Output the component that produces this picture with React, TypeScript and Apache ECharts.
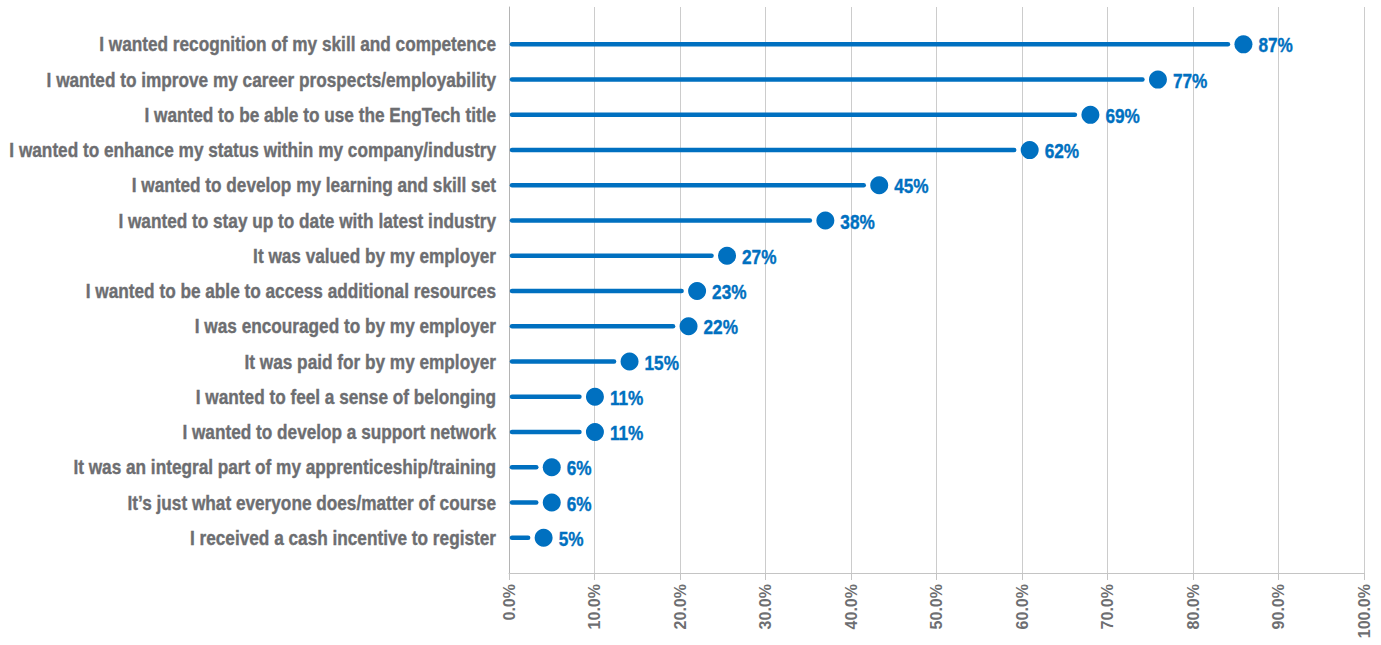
import React, { useEffect, useRef } from "react";
import * as echarts from "echarts";

const categories = [
  "I wanted recognition of my skill and competence",
  "I wanted to improve my career prospects/employability",
  "I wanted to be able to use the EngTech title",
  "I wanted to enhance my status within my company/industry",
  "I wanted to develop my learning and skill set",
  "I wanted to stay up to date with latest industry",
  "It was valued by my employer",
  "I wanted to be able to access additional resources",
  "I was encouraged to by my employer",
  "It was paid for by my employer",
  "I wanted to feel a sense of belonging",
  "I wanted to develop a support network",
  "It was an integral part of my apprenticeship/training",
  "It\u2019s just what everyone does/matter of course",
  "I received a cash incentive to register",
];

// plotted positions of the dots (percent)
const values = [85.9, 75.9, 68.0, 60.9, 43.3, 37.0, 25.5, 22.0, 21.0, 14.1, 10.05, 10.05, 5.0, 5.0, 4.05];
// printed data labels
const dataLabels = ["87%", "77%", "69%", "62%", "45%", "38%", "27%", "23%", "22%", "15%", "11%", "11%", "6%", "6%", "5%"];

const xTicks = [0, 10, 20, 30, 40, 50, 60, 70, 80, 90, 100];

const BLUE = "#0070c0";
const GRAY = "#6d6e71";
const FONT = '"Liberation Sans", Arial, sans-serif';
const NARROW = 0.82;

export default function App() {
  const ref = useRef<HTMLDivElement>(null);

  useEffect(() => {
    if (!ref.current) return;
    const chart = echarts.init(ref.current, null, { renderer: "svg" });
    const option: any = {
      animation: false,
      backgroundColor: "#ffffff",
      grid: { left: 509, right: 17, top: 7, bottom: 72, containLabel: false, outerBoundsMode: "none" },
      xAxis: {
        type: "value",
        min: xTicks[0],
        max: xTicks[xTicks.length - 1],
        interval: 10,
        axisLine: { show: true, onZero: false, lineStyle: { color: "#c4c4c4", width: 1 } },
        axisTick: { show: true, length: 7, lineStyle: { color: "#c4c4c4" } },
        splitLine: { show: true, lineStyle: { color: "#cccccc", width: 1 } },
        axisLabel: {
          rotate: 90,
          margin: 11,
          color: GRAY,
          fontSize: 16,
          fontWeight: "bold",
          fontFamily: FONT,
          formatter: (v: number) => v.toFixed(1) + "%",
        },
      },
      yAxis: {
        type: "value",
        inverse: true,
        min: -1.06,
        max: 15,
        axisLine: { show: true, onZero: false, lineStyle: { color: "#b4b4b4" } },
        axisTick: { show: false },
        splitLine: { show: false },
        axisLabel: { show: false },
      },
      series: [
        {
          type: "custom",
          data: values.map((v, i) => [v, i]),
          encode: { x: 0, y: 1 },
          clip: false,
          renderItem: (params: any, api: any) => {
            const v = api.value(0);
            const i = api.value(1);
            const [x, y] = api.coord([v, i]);
            const [x0] = api.coord([0, i]);
            return {
              type: "group",
              children: [
                {
                  type: "line",
                  shape: { x1: x0 + 3, y1: y, x2: x - 15.5, y2: y },
                  style: { stroke: BLUE, lineWidth: 4.5, lineCap: "round" },
                },
                {
                  type: "circle",
                  shape: { cx: x, cy: y, r: 9 },
                  style: { fill: BLUE },
                },
                {
                  type: "text",
                  x: x + 15,
                  y: y + 1,
                  scaleX: NARROW,
                  style: {
                    text: dataLabels[params.dataIndex],
                    fill: BLUE,
                    stroke: BLUE,
                    lineWidth: 0.4,
                    fontSize: 21,
                    fontWeight: "bold",
                    fontFamily: FONT,
                    align: "left",
                    verticalAlign: "middle",
                  },
                },
                {
                  type: "text",
                  x: x0 - 13,
                  y: y,
                  scaleX: NARROW,
                  style: {
                    text: categories[params.dataIndex],
                    fill: GRAY,
                    stroke: GRAY,
                    lineWidth: 0.4,
                    fontSize: 21,
                    fontWeight: "bold",
                    fontFamily: FONT,
                    align: "right",
                    verticalAlign: "middle",
                  },
                },
              ],
            };
          },
        },
      ],
    };
    chart.setOption(option);
    return () => chart.dispose();
  }, []);

  return (
    <div
      ref={ref}
      style={{ position: "fixed", left: 0, top: 0, width: 1381, height: 645, background: "#fff" }}
    />
  );
}
